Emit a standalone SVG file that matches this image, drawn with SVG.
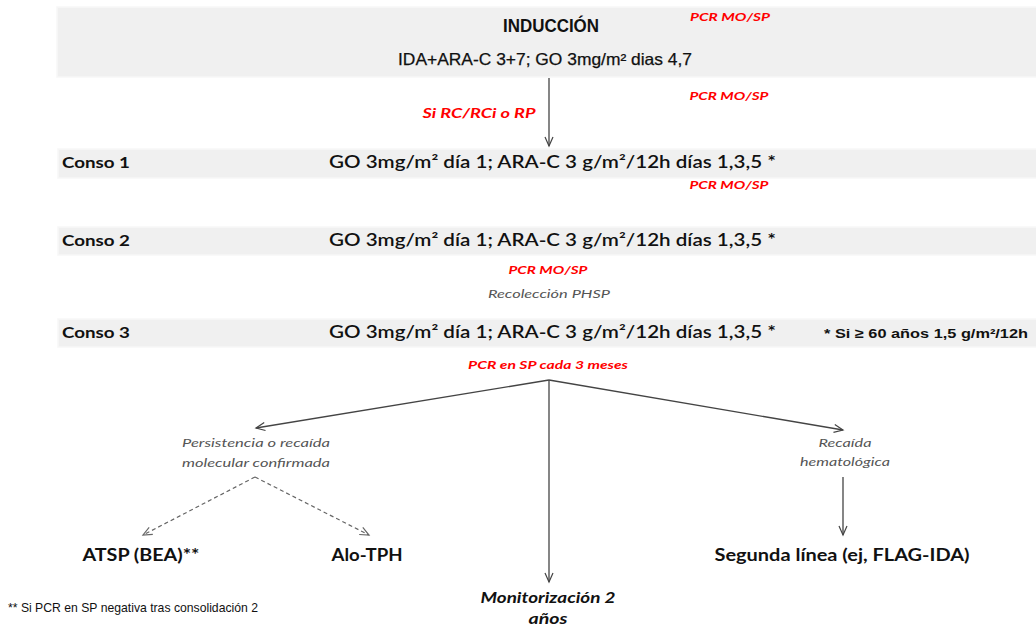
<svg xmlns="http://www.w3.org/2000/svg" width="1036" height="631" viewBox="0 0 1036 631">
<style>
.band{fill:#f0f0f0;stroke:#f7f7f7;stroke-width:1.5}
.red{font-family:Lato,"Liberation Sans",sans-serif;font-weight:bold;font-style:italic;fill:#ff0000}
.cal{font-family:Lato,"Liberation Sans",sans-serif;fill:#111}
.calb{font-family:Lato,"Liberation Sans",sans-serif;font-weight:bold;fill:#111}
.ital{font-family:Lato,"Liberation Sans",sans-serif;font-style:italic;fill:#555}
.ar{font-family:"Liberation Sans",Arial,sans-serif;fill:#111}
.ln{stroke:#444;stroke-width:1.3;fill:none}
.dash{stroke:#666;stroke-width:1.2;fill:none;stroke-dasharray:4 3}
</style>
<defs>
<marker id="ah" markerWidth="12" markerHeight="12" refX="10" refY="5" orient="auto" markerUnits="userSpaceOnUse">
<path d="M1,1 L10,5 L1,9" fill="none" stroke="#444" stroke-width="1.2"/>
</marker>
<marker id="ahd" markerWidth="12" markerHeight="12" refX="10" refY="5" orient="auto" markerUnits="userSpaceOnUse">
<path d="M1,1 L10,5 L1,9" fill="none" stroke="#666" stroke-width="1.2"/>
</marker>
</defs>
<g id="induccion">
<rect class="band" x="57" y="7" width="985" height="70"/>
<text class="ar" x="551" y="32" text-anchor="middle" font-size="19" font-weight="bold" textLength="96" lengthAdjust="spacingAndGlyphs">INDUCCIÓN</text>
<text class="ar" x="545" y="65" text-anchor="middle" font-size="16.5" font-weight="500" stroke="#111" stroke-width="0.25" textLength="294" lengthAdjust="spacingAndGlyphs">IDA+ARA-C 3+7; GO 3mg/m² dias 4,7</text>
<text class="red" x="730" y="21" text-anchor="middle" font-size="11" textLength="80" lengthAdjust="spacingAndGlyphs">PCR MO/SP</text>
</g>
<g id="labels-top">
<text class="red" x="479" y="118" text-anchor="middle" font-size="13.5" textLength="113" lengthAdjust="spacingAndGlyphs">Si RC/RCi o RP</text>
<text class="red" x="729" y="100" text-anchor="middle" font-size="11" textLength="79" lengthAdjust="spacingAndGlyphs">PCR MO/SP</text>
</g>
<g id="conso1">
<rect class="band" x="58" y="149" width="985" height="29"/>
<text class="calb" x="62" y="168" font-size="16" textLength="68" lengthAdjust="spacingAndGlyphs">Conso 1</text>
<text class="cal" x="329" y="168" font-size="16.5" font-weight="600" textLength="447" lengthAdjust="spacingAndGlyphs">GO 3mg/m² día 1; ARA-C 3 g/m²/12h días 1,3,5 *</text>
</g>
<text class="red" x="729" y="189" text-anchor="middle" font-size="11" textLength="79" lengthAdjust="spacingAndGlyphs">PCR MO/SP</text>
<g id="conso2">
<rect class="band" x="58" y="227" width="985" height="28"/>
<text class="calb" x="62" y="246" font-size="16" textLength="68" lengthAdjust="spacingAndGlyphs">Conso 2</text>
<text class="cal" x="329" y="246" font-size="16.5" font-weight="600" textLength="447" lengthAdjust="spacingAndGlyphs">GO 3mg/m² día 1; ARA-C 3 g/m²/12h días 1,3,5 *</text>
</g>
<text class="red" x="548" y="274" text-anchor="middle" font-size="11" textLength="79" lengthAdjust="spacingAndGlyphs">PCR MO/SP</text>
<text class="ital" x="549" y="298" text-anchor="middle" font-size="11" textLength="122" lengthAdjust="spacingAndGlyphs">Recolección PHSP</text>
<g id="conso3">
<rect class="band" x="58" y="319" width="985" height="28"/>
<text class="calb" x="62" y="338" font-size="16" textLength="68" lengthAdjust="spacingAndGlyphs">Conso 3</text>
<text class="cal" x="329" y="338" font-size="16.5" font-weight="600" textLength="447" lengthAdjust="spacingAndGlyphs">GO 3mg/m² día 1; ARA-C 3 g/m²/12h días 1,3,5 *</text>
<text class="ar" x="824" y="338" font-size="13.5" font-weight="bold" textLength="204" lengthAdjust="spacingAndGlyphs">* Si ≥ 60 años 1,5 g/m²/12h</text>
</g>
<text class="red" x="548" y="369" text-anchor="middle" font-size="11.5" textLength="160" lengthAdjust="spacingAndGlyphs">PCR en SP cada 3 meses</text>
<g id="persistencia">
<text class="ital" x="256" y="447" text-anchor="middle" font-size="11.5" textLength="148" lengthAdjust="spacingAndGlyphs">Persistencia o recaída</text>
<text class="ital" x="256" y="467" text-anchor="middle" font-size="11.5" textLength="148" lengthAdjust="spacingAndGlyphs">molecular confirmada</text>
</g>
<g id="recaida">
<text class="ital" x="845" y="447" text-anchor="middle" font-size="11.5" textLength="53" lengthAdjust="spacingAndGlyphs">Recaída</text>
<text class="ital" x="845" y="466" text-anchor="middle" font-size="11.5" textLength="90" lengthAdjust="spacingAndGlyphs">hematológica</text>
</g>
<g id="atsp"><text class="calb" x="141" y="561" text-anchor="middle" font-size="16.5" textLength="117" lengthAdjust="spacingAndGlyphs">ATSP (BEA)**</text></g>
<g id="alotph"><text class="calb" x="367" y="561" text-anchor="middle" font-size="16.5" textLength="71" lengthAdjust="spacingAndGlyphs">Alo-TPH</text></g>
<g id="segunda"><text class="calb" x="842" y="561" text-anchor="middle" font-size="16.5" textLength="255" lengthAdjust="spacingAndGlyphs">Segunda línea (ej, FLAG-IDA)</text></g>
<g id="monitorizacion">
<text class="calb" x="548" y="603" text-anchor="middle" font-size="15.5" font-style="italic" textLength="135" lengthAdjust="spacingAndGlyphs">Monitorización 2</text>
<text class="calb" x="548" y="624" text-anchor="middle" font-size="15.5" font-style="italic" textLength="39" lengthAdjust="spacingAndGlyphs">años</text>
</g>
<text class="ar" x="8" y="612" font-size="13" fill="#333" textLength="250" lengthAdjust="spacingAndGlyphs">** Si PCR en SP negativa tras consolidación 2</text>
<g id="connectors">
<line class="ln" x1="549" y1="78" x2="549" y2="146" marker-end="url(#ah)"/>
<line class="ln" x1="549" y1="380" x2="256" y2="428" marker-end="url(#ah)"/>
<line class="ln" x1="549" y1="380" x2="843" y2="430" marker-end="url(#ah)"/>
<line class="ln" x1="549" y1="380" x2="549" y2="582" marker-end="url(#ah)"/>
<line class="ln" x1="843" y1="477" x2="843" y2="535" marker-end="url(#ah)"/>
<line class="dash" x1="255" y1="477" x2="143" y2="535" marker-end="url(#ahd)"/>
<line class="dash" x1="255" y1="477" x2="369" y2="535" marker-end="url(#ahd)"/>
</g>
</svg>
